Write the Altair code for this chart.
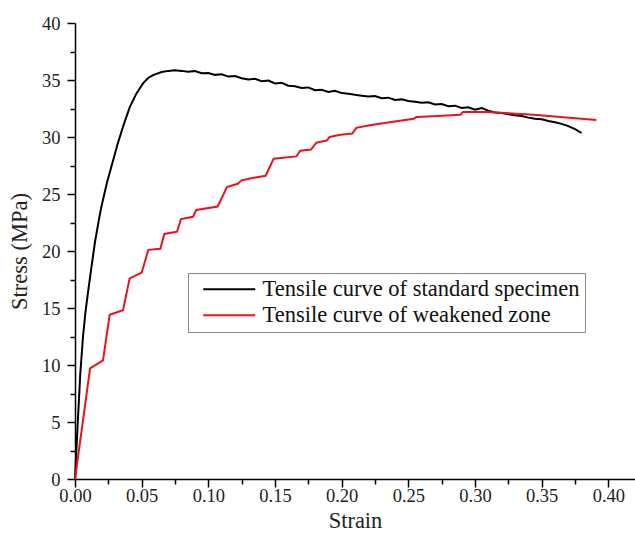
import altair as alt
import pandas as pd

# Tensile curve of standard specimen (strain, stress MPa)
std_strain = [0, 0.002, 0.004, 0.006, 0.008, 0.010, 0.012, 0.015, 0.018, 0.020,
              0.024, 0.028, 0.032, 0.036, 0.041, 0.046, 0.051, 0.055, 0.059, 0.065,
              0.070, 0.075,
              0.080, 0.085, 0.090, 0.095, 0.100, 0.105, 0.110, 0.115, 0.120, 0.125,
              0.130, 0.135, 0.140, 0.145, 0.150, 0.155, 0.160, 0.165, 0.170, 0.175,
              0.180, 0.185, 0.190, 0.195, 0.200, 0.205, 0.210, 0.215, 0.220, 0.225,
              0.230, 0.235, 0.240, 0.245, 0.250, 0.255, 0.260, 0.265, 0.270, 0.275,
              0.280, 0.285, 0.290, 0.295, 0.300, 0.305, 0.310, 0.315, 0.320, 0.325,
              0.330, 0.335, 0.340, 0.345, 0.350, 0.355, 0.360, 0.365, 0.370, 0.375,
              0.380]
std_stress = [0, 4.8, 9.3, 12.5, 14.8, 16.6, 18.3, 20.8, 22.8, 24.0,
              26.0, 27.7, 29.4, 30.9, 32.6, 33.8, 34.7, 35.2, 35.45, 35.7,
              35.8, 35.85,
              35.80, 35.72, 35.78, 35.60, 35.62, 35.45, 35.50, 35.30, 35.35, 35.15,
              35.05, 35.10, 34.90, 34.95, 34.70, 34.75, 34.50, 34.45, 34.30, 34.35,
              34.10, 34.15, 33.95, 34.05, 33.85, 33.80, 33.70, 33.62, 33.55, 33.60,
              33.40, 33.45, 33.25, 33.30, 33.15, 33.10, 33.00, 33.05, 32.85, 32.90,
              32.70, 32.75, 32.55, 32.60, 32.40, 32.55, 32.30, 32.15, 32.10, 32.00,
              31.90, 31.85, 31.70, 31.60, 31.55, 31.40, 31.30, 31.15, 30.95, 30.70,
              30.35]

# Tensile curve of weakened zone
weak_strain = [0, 0.0113, 0.021, 0.026, 0.036, 0.041, 0.050, 0.055, 0.064, 0.067,
               0.0766, 0.0795, 0.0885, 0.091, 0.107, 0.114, 0.122, 0.125, 0.133, 0.143,
               0.149, 0.166, 0.169, 0.177, 0.181, 0.189, 0.191, 0.199, 0.208, 0.211,
               0.220, 0.236, 0.254, 0.256, 0.272, 0.289, 0.291, 0.309, 0.344, 0.391]
weak_stress = [0, 9.7, 10.4, 14.4, 14.8, 17.6, 18.1, 20.1, 20.2, 21.5,
               21.7, 22.8, 23.0, 23.6, 23.9, 25.6, 25.9, 26.2, 26.4, 26.6,
               28.1, 28.3, 28.8, 28.9, 29.5, 29.7, 30.0, 30.2, 30.3, 30.8,
               31.0, 31.3, 31.6, 31.75, 31.85, 31.95, 32.2, 32.2, 31.95, 31.5]

series_names = ["Tensile curve of standard specimen", "Tensile curve of weakened zone"]
series_colors = ["#000000", "#e8141b"]

x_major = [0, 0.05, 0.10, 0.15, 0.20, 0.25, 0.30, 0.35, 0.40]
x_minor = [0.025, 0.075, 0.125, 0.175, 0.225, 0.275, 0.325, 0.375]
y_major = [0, 5, 10, 15, 20, 25, 30, 35, 40]
y_minor = [2.5, 7.5, 12.5, 17.5, 22.5, 27.5, 32.5, 37.5]

df = pd.concat([
    pd.DataFrame({"strain": std_strain, "stress": std_stress, "series": series_names[0], "o": range(len(std_strain))}),
    pd.DataFrame({"strain": weak_strain, "stress": weak_stress, "series": series_names[1], "o": range(len(weak_strain))}),
])

FONT = "Liberation Serif"
xscale = alt.Scale(domain=[0, 0.42], nice=False, zero=False)
yscale = alt.Scale(domain=[0, 40], nice=False)

common = dict(labelFont=FONT, labelFontSize=18.5, labelColor="#222",
              titleFont=FONT, titleFontSize=22.5, titleFontWeight="normal", titleColor="#222",
              domainColor="#000", domainWidth=1.5, tickColor="#000", tickWidth=1.5, grid=False)

main = alt.Chart(df).mark_line(strokeWidth=2).encode(
    x=alt.X("strain:Q", scale=xscale, title="Strain",
            axis=alt.Axis(values=x_major, format=".2f", tickSize=8, labelPadding=-1,
                          labelFlush=False, titlePadding=5, orient="bottom", **common)),
    y=alt.Y("stress:Q", scale=yscale, title="Stress (MPa)",
            axis=alt.Axis(values=y_major, format="d", tickSize=8, labelPadding=7,
                          labelFlush=False, titlePadding=10, orient="left", **common)),
    color=alt.Color("series:N",
                    scale=alt.Scale(domain=series_names, range=series_colors),
                    legend=alt.Legend(title=None, orient="none", legendX=113, legendY=250,
                                      symbolType="M-0.1,0H5.1", symbolSize=400, symbolStrokeWidth=2,
                                      labelFont=FONT, labelFontSize=22.5, labelColor="#111",
                                      labelOffset=47, rowPadding=3, padding=5,
                                      strokeColor="#888", fillColor="white",
                                      labelLimit=500)),
    order="o:Q",
)

minor = alt.Chart(df).mark_line(opacity=0).encode(
    x=alt.X("strain:Q", scale=xscale, title=None,
            axis=alt.Axis(values=x_minor, labels=False, domain=False, tickSize=5,
                          tickColor="#000", tickWidth=1.5, grid=False, orient="bottom")),
    y=alt.Y("stress:Q", scale=yscale, title=None,
            axis=alt.Axis(values=y_minor, labels=False, domain=False, tickSize=5,
                          tickColor="#000", tickWidth=1.5, grid=False, orient="left")),
    detail="series:N",
)

chart = alt.layer(main, minor).resolve_axis(x="independent", y="independent").properties(
    width=560, height=456,
    autosize=alt.AutoSizeParams(type="none"),
    padding={"left": 75, "top": 23, "right": 0, "bottom": 58},
    background="white",
).configure_view(stroke=None).configure_axis(
    grid=False, labelFont=FONT, titleFont=FONT,
)

chart.save("out.html", embed_options={"renderer": "svg", "actions": False})
